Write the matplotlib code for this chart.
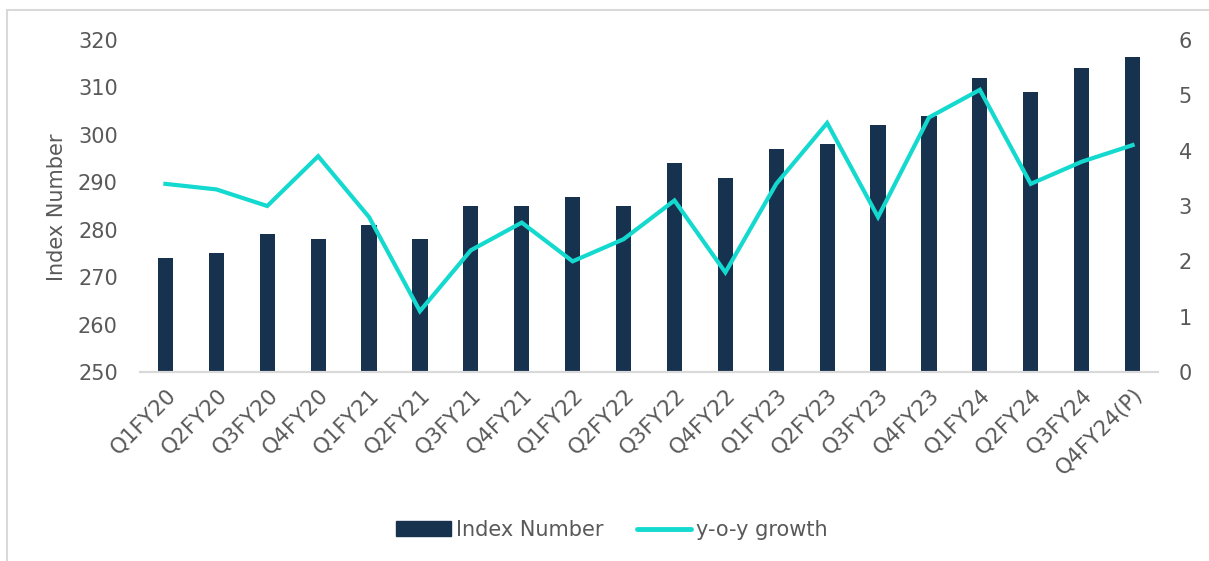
import matplotlib
matplotlib.use("Agg")
import matplotlib.pyplot as plt
from matplotlib.patches import Rectangle
from matplotlib.lines import Line2D

categories = ["Q1FY20", "Q2FY20", "Q3FY20", "Q4FY20", "Q1FY21", "Q2FY21", "Q3FY21",
              "Q4FY21", "Q1FY22", "Q2FY22", "Q3FY22", "Q4FY22", "Q1FY23", "Q2FY23",
              "Q3FY23", "Q4FY23", "Q1FY24", "Q2FY24", "Q3FY24", "Q4FY24(P)"]
index_number = [274, 275, 279, 278, 281, 278, 285, 285, 287, 285, 294, 291, 297, 298,
                302, 304, 312, 309, 314, 316.5]
yoy_growth = [3.4, 3.3, 3.0, 3.9, 2.8, 1.1, 2.2, 2.7, 2.0, 2.4, 3.1, 1.8, 3.4, 4.5,
              2.8, 4.6, 5.1, 3.4, 3.8, 4.1]
left_ticks = [250, 260, 270, 280, 290, 300, 310, 320]
right_ticks = [0, 1, 2, 3, 4, 5, 6]

NAVY = "#17324F"
TEAL = "#14D9CF"
TXT = "#595959"
FONT = "DejaVu Sans"

W, H = 1209, 561
fig = plt.figure(figsize=(W / 100, H / 100), dpi=100)
fig.patch.set_facecolor("white")

# outer border (left and top visible)
fig.patches.append(Rectangle((7 / W, -0.1), 1.5, (H - 10) / H + 0.1,
                             transform=fig.transFigure, fill=False,
                             edgecolor="#D9D9D9", linewidth=1.5))

ax_l, ax_r = 140 / W, 1158 / W
ax_b, ax_t = 1 - 372 / H, 1 - 40 / H
ax = fig.add_axes([ax_l, ax_b, ax_r - ax_l, ax_t - ax_b])
ax2 = ax.twinx()

x = list(range(len(categories)))
ax.bar(x, index_number, width=0.30, color=NAVY, zorder=2)
ax2.plot(x, yoy_growth, color=TEAL, linewidth=3.0, solid_joinstyle="miter", zorder=3)

ax.set_xlim(-0.5, len(categories) - 0.5)
ax.set_ylim(250, 320)
ax2.set_ylim(0, 6)
ax.set_yticks(left_ticks)
ax2.set_yticks(right_ticks)

for a in (ax, ax2):
    for s in ("top", "left", "right"):
        a.spines[s].set_visible(False)
    a.spines["bottom"].set_color("#D9D9D9")
    a.spines["bottom"].set_linewidth(1.5)
    a.tick_params(axis="y", length=0, labelsize=15, labelcolor=TXT)
    a.tick_params(axis="x", length=0)
    a.set_facecolor("none")

ax.tick_params(axis="y", pad=16)
ax2.tick_params(axis="y", pad=15)
for lbl in ax.get_yticklabels() + ax2.get_yticklabels():
    lbl.set_fontfamily(FONT)

ax.set_xticks(x)
ax.set_xticklabels(categories, rotation=45, ha="right", rotation_mode="anchor",
                   fontsize=15.5, color=TXT, fontfamily=FONT)
ax.tick_params(axis="x", pad=9)

ax.set_ylabel("Index Number", fontsize=15, color=TXT, fontfamily=FONT)
ax.yaxis.label.set_va("center")
ax.yaxis.set_label_coords(57 / W, 1 - 207 / H, transform=fig.transFigure)

handles = [Rectangle((0, 0), 1, 1, color=NAVY),
           Line2D([0], [0], color=TEAL, linewidth=3.5, solid_capstyle="round")]
fig.legend(handles, ["Index Number", "y-o-y growth"], loc="center",
           bbox_to_anchor=(612 / W, 1 - 530 / H), ncol=2, frameon=False,
           prop={"family": FONT, "size": 15}, labelcolor=TXT,
           handlelength=2.6, handleheight=0.75, handletextpad=0.25, columnspacing=1.6)

fig.savefig("out.png", dpi=100, facecolor="white")
